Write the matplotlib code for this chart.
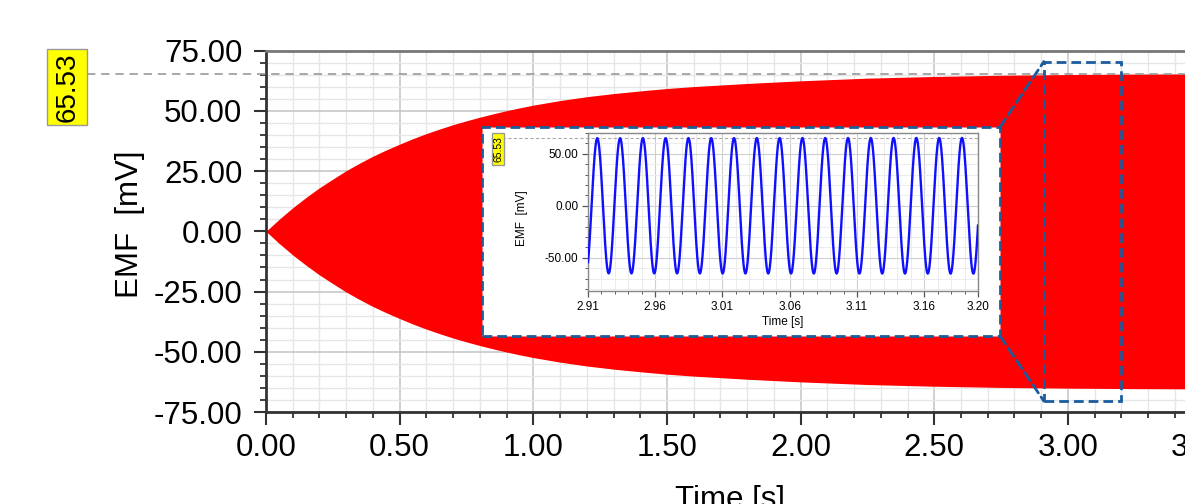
import numpy as np
import matplotlib
matplotlib.use("Agg")
import matplotlib.pyplot as plt
from matplotlib.patches import Rectangle, ConnectionPatch
from matplotlib.ticker import MultipleLocator, FixedLocator, FormatStrFormatter

plt.rcParams['font.family'] = ['Liberation Sans', 'DejaVu Sans']

# envelope of the EMF signal (time in s, amplitude in mV)
env_t = [0.0, 0.05, 0.1, 0.15, 0.2, 0.25, 0.3, 0.35, 0.4, 0.45, 0.5, 0.55, 0.6, 0.65,
         0.7, 0.75, 0.8, 0.85, 0.9, 0.95, 1.0, 1.1, 1.2, 1.3, 1.4, 1.5, 1.6, 1.8,
         2.0, 2.25, 2.5, 2.75, 3.0, 3.25, 3.5]
env_mv = [0.0, 5.1, 9.8, 14.1, 18.1, 21.7, 25.2, 28.3, 31.2, 33.8, 36.2, 38.5, 40.6, 42.5,
          44.3, 45.9, 47.4, 48.8, 50.1, 51.3, 52.4, 54.3, 55.9, 57.2, 58.3, 59.3, 60.1, 61.4,
          62.5, 63.6, 64.3, 64.8, 65.1, 65.3, 65.4]
peak_mv = 65.53

# zoomed window (inset)
zoom_t0, zoom_t1 = 2.91, 3.20
carrier_hz = 59.0        # ~17 cycles in 0.29 s
first_peak_t = 2.9169
inset_xticks = [2.91, 2.96, 3.01, 3.06, 3.11, 3.16, 3.20]

W, H = 1185, 504
fig = plt.figure(figsize=(W / 100, H / 100), dpi=100)

def fx(px):
    return px / W

def fy(px):
    return 1 - px / H

def label_box(l, t, r, b, z=3):
    fig.patches.append(Rectangle((fx(l), fy(b)), (r - l) / W, (b - t) / H,
                                 transform=fig.transFigure, facecolor='#ffff00',
                                 edgecolor='#999999', lw=1, zorder=z))

# ---- main axes
ax = fig.add_axes([fx(266), fy(412), (1201.6 - 266) / W, 361.3 / H])
ax.set_xlim(0, 3.5)
ax.set_ylim(-75, 75)
ax.fill_between(env_t, [-v for v in env_mv], env_mv, color='#ff0000', lw=0, zorder=2)

ax.xaxis.set_major_locator(MultipleLocator(0.5))
ax.xaxis.set_minor_locator(MultipleLocator(0.1))
ax.yaxis.set_major_locator(MultipleLocator(25))
ax.yaxis.set_minor_locator(MultipleLocator(5))
ax.xaxis.set_major_formatter(FormatStrFormatter('%.2f'))
ax.yaxis.set_major_formatter(FormatStrFormatter('%.2f'))
ax.grid(which='major', color='#c4c4c4', lw=1.1, zorder=0)
ax.grid(which='minor', color='#e6e6e6', lw=1.0, zorder=0)
ax.set_axisbelow(True)
ax.tick_params(which='major', direction='out', length=9, width=1.5, color='#333333',
               labelsize=22.5, pad=6)
ax.tick_params(which='minor', direction='out', length=4.5, width=1.3, color='#333333')
ax.tick_params(axis='y', which='major', pad=8)
for s in ['left', 'bottom']:
    ax.spines[s].set_color('#333333')
    ax.spines[s].set_linewidth(2)
ax.spines['top'].set_color('#777777')
ax.spines['top'].set_linewidth(2)
ax.spines['right'].set_visible(False)

ax.set_ylabel('EMF  [mV]', fontsize=22.5)
ax.yaxis.set_label_coords(-0.129, 0.52)
ax.set_xlabel('Time [s]', fontsize=22.5)
ax.xaxis.set_label_coords(0.496, -0.202)

# peak marker line + yellow label
ax.plot([-0.67, 3.5], [peak_mv, peak_mv], ls=(0, (5, 3.5)), color='#999999', lw=1.2,
        clip_on=False, zorder=3)
label_box(47, 49, 87, 125)
fig.text(fx(67.5), fy(87), '%.2f' % peak_mv, rotation=90, ha='center', va='center',
         fontsize=20, color='black', zorder=4)

# zoom rectangle on main axes
blue_d = '#1a5c9e'
ax.add_patch(Rectangle((zoom_t0, -70.5), zoom_t1 - zoom_t0, 141, fill=False,
                       edgecolor=blue_d, ls=(0, (3.5, 1.8)), lw=2.0, zorder=4))

# ---- inset frame
frame_l, frame_r, frame_t, frame_b = 482, 1000, 127, 336
frame = Rectangle((fx(frame_l), fy(frame_b)), (frame_r - frame_l) / W, (frame_b - frame_t) / H,
                  transform=fig.transFigure, facecolor='white', edgecolor=blue_d,
                  ls=(0, (3.5, 1.8)), lw=2.0, zorder=2)
fig.patches.append(frame)

for (ya, yb) in [(frame_t, 70.5), (frame_b, -70.5)]:
    con = ConnectionPatch(xyA=(fx(frame_r), fy(ya)), coordsA=fig.transFigure,
                          xyB=(zoom_t0, yb), coordsB=ax.transData,
                          color=blue_d, ls=(0, (3.5, 1.8)), lw=2.0, zorder=3)
    fig.add_artist(con)

# ---- inset axes
ins = fig.add_axes([fx(588), fy(291), 390 / W, 158 / H], zorder=5)
ins.set_xlim(zoom_t0, zoom_t1)
ins.set_ylim(-82, 70)
t = np.linspace(zoom_t0, zoom_t1, 3000)
amp = np.interp(t, env_t, env_mv)
sig = amp * np.cos(2 * np.pi * carrier_hz * (t - first_peak_t))
ins.plot(t, sig, color='#1010ff', lw=1.7, zorder=3)

ins.xaxis.set_major_locator(FixedLocator(inset_xticks))
ins.xaxis.set_minor_locator(MultipleLocator(0.01))
ins.yaxis.set_major_locator(MultipleLocator(50))
ins.yaxis.set_minor_locator(MultipleLocator(10))
ins.xaxis.set_major_formatter(FormatStrFormatter('%.2f'))
ins.yaxis.set_major_formatter(FormatStrFormatter('%.2f'))
ins.grid(which='major', color='#cfcfcf', lw=0.8)
ins.grid(which='minor', color='#ececec', lw=0.7)
ins.set_axisbelow(True)
ins.tick_params(which='major', direction='out', length=4, width=0.9, color='#555555',
                labelsize=8.5, pad=3)
ins.tick_params(which='minor', direction='out', length=2, width=0.7, color='#555555')
for s in ins.spines.values():
    s.set_color('#888888')
    s.set_linewidth(1)
ins.set_ylabel('EMF  [mV]', fontsize=8.5)
ins.yaxis.set_label_coords(-0.153, 0.46)
ins.set_xlabel('Time [s]', fontsize=8.5, labelpad=2)

ins.plot([zoom_t0 - 0.072, zoom_t1], [peak_mv, peak_mv], ls=(0, (3, 2)), color='#aaaaaa',
         lw=0.8, clip_on=False, zorder=2)
label_box(492, 133, 504, 165, z=6)
fig.text(fx(498.3), fy(149), '%.2f' % peak_mv, rotation=90, ha='center', va='center',
         fontsize=7.5, color='black', zorder=7)

fig.savefig('out.png', dpi=100)
